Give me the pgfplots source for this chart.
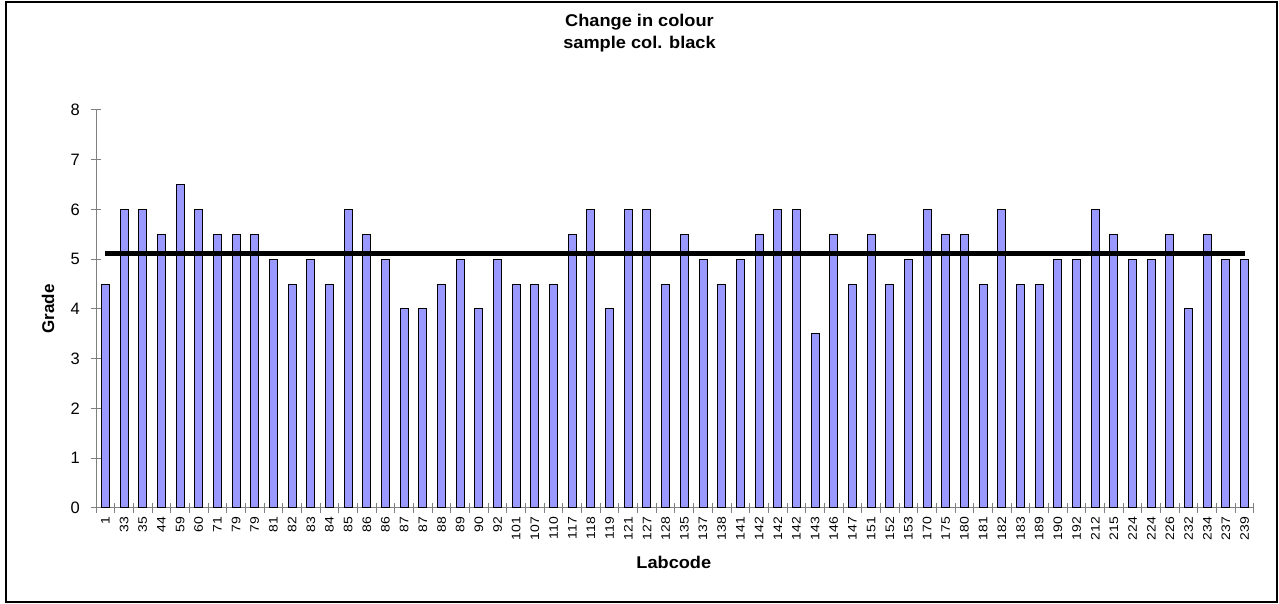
\documentclass[border=0pt]{standalone}
\usepackage{fontspec}
\setmainfont{Liberation Sans}
\usepackage{pgfplots}
\pgfplotsset{compat=1.18}
\definecolor{barblue}{HTML}{9999FF}
\begin{document}
\begin{tikzpicture}[x=1pt,y=1pt]
\useasboundingbox (0,0) rectangle (1279,604);
\draw[line width=1.5pt] (6,2) rectangle (1277,602);
\node[font=\bfseries\fontsize{17}{22}\selectfont, align=center, xscale=1.07] at (639.5,571) {Change in colour\\sample col. black};
\begin{axis}[
  at={(96pt,96pt)}, anchor=south west,
  scale only axis, width=1158pt, height=398pt,
  xmin=-0.5, xmax=61.5, ymin=0, ymax=8,
  ytick={0,1,...,8},
  xtick={-0.5,0.5,...,61.5}, xticklabels={},
  extra x ticks={0,1,...,61},
  extra x tick labels={1,33,35,44,59,60,71,79,79,81,82,83,84,85,86,86,87,87,88,89,90,92,101,107,110,117,118,119,121,127,128,135,137,138,141,142,142,142,143,146,147,151,152,153,170,175,180,181,182,183,189,190,192,212,215,224,224,226,232,234,237,239},
  extra x tick style={major tick length=0pt, tick style={draw=none}},
  axis x line*=bottom, axis y line*=left,
  axis line style={gray, line width=1pt},
  tick style={gray, line width=1pt},
  tick align=center, major tick length=10pt,
  /pgf/number format/assume math mode=true,
  yticklabel style={font=\fontsize{16.5}{18}\selectfont, anchor=east, inner sep=0pt, xshift=-11pt},
  xticklabel style={font=\fontsize{14}{15}\selectfont, yshift=-8.5pt, rotate=90, yscale=0.88, anchor=east, inner sep=0pt},
  xlabel={Labcode}, ylabel={Grade},
  label style={font=\bfseries\fontsize{17}{20}\selectfont},
  xlabel style={at={(axis description cs:0.499,-0.1357)}, anchor=center, xscale=1.07},
  ylabel style={at={(axis description cs:-0.0415,0.5)}, anchor=center},
  clip=false,
]
\addplot[ybar, bar width=8pt, fill=barblue, draw=black, line width=1pt] coordinates {
(0,4.5) (1,6) (2,6) (3,5.5) (4,6.5) (5,6) (6,5.5) (7,5.5) (8,5.5) (9,5)
(10,4.5) (11,5) (12,4.5) (13,6) (14,5.5) (15,5) (16,4) (17,4) (18,4.5) (19,5)
(20,4) (21,5) (22,4.5) (23,4.5) (24,4.5) (25,5.5) (26,6) (27,4) (28,6) (29,6)
(30,4.5) (31,5.5) (32,5) (33,4.5) (34,5) (35,5.5) (36,6) (37,6) (38,3.5) (39,5.5)
(40,4.5) (41,5.5) (42,4.5) (43,5) (44,6) (45,5.5) (46,5.5) (47,4.5) (48,6) (49,4.5)
(50,4.5) (51,5) (52,5) (53,6) (54,5.5) (55,5) (56,5) (57,5.5) (58,4) (59,5.5)
(60,5) (61,5)};
\addplot[black, line width=4.5pt, sharp plot, mark=none] coordinates {(0,5.12) (61,5.12)};
\end{axis}
\end{tikzpicture}
\end{document}
